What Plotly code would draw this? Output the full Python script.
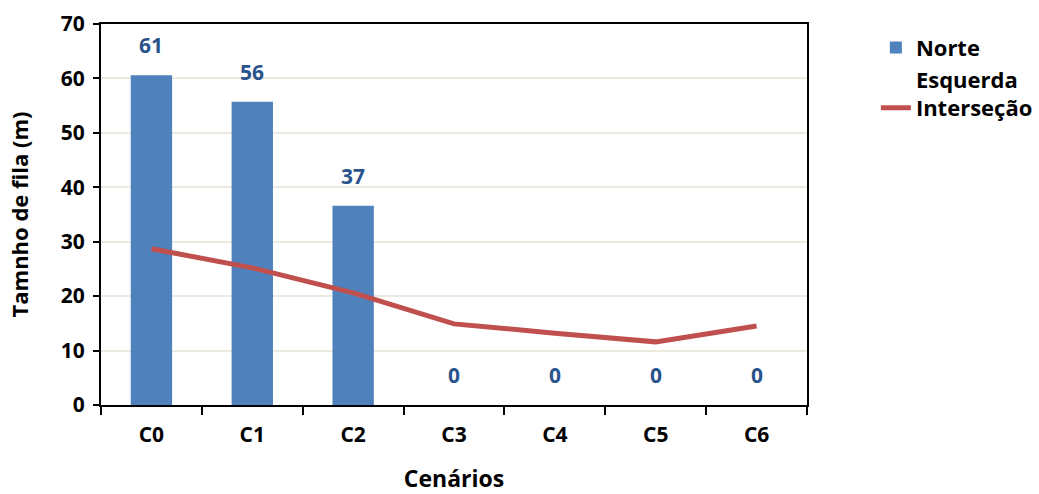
import plotly.graph_objects as go

categories = ["C0", "C1", "C2", "C3", "C4", "C5", "C6"]
norte = [60.6, 55.7, 36.6, 0, 0, 0, 0]
norte_labels = ["61", "56", "37", "0", "0", "0", "0"]
esquerda = [28.7, 25.2, 20.6, 14.9, 13.2, 11.6, 14.5]
y_ticks = [0, 10, 20, 30, 40, 50, 60, 70]

FONT = "Open Sans"

fig = go.Figure()
fig.add_trace(go.Bar(
    x=categories, y=norte, name="Norte",
    marker=dict(color="#4F81BD", line=dict(width=0)),
))
fig.add_trace(go.Scatter(
    x=categories, y=esquerda, name="Esquerda<br>Interseção",
    mode="lines", line=dict(color="#C0504D", width=5),
))

for c, v, t in zip(categories, norte, norte_labels):
    fig.add_annotation(
        x=c, y=v, text=f"<b>{t}</b>", showarrow=False,
        yshift=30, font=dict(family=FONT, size=21, color="#2A538C"),
    )

fig.update_layout(
    width=1039, height=494,
    margin=dict(l=101, r=232, t=24, b=89),
    plot_bgcolor="white", paper_bgcolor="white",
    bargap=0.59,
    font=dict(family=FONT, size=18, color="black"),
    legend=dict(
        xref="container", yref="container",
        x=0.843, y=0.946, xanchor="left", yanchor="top",
        font=dict(family=FONT, size=22, color="black", weight="bold"),
        tracegroupgap=11, valign="bottom",
    ),
    showlegend=True,
)
fig.update_xaxes(
    automargin=False,
    showline=True, linecolor="black", linewidth=2, mirror=True,
    ticks="outside", tickson="boundaries", ticklen=8, tickwidth=2, tickcolor="black",
    tickfont=dict(family=FONT, size=21, weight="bold"),
    ticklabelstandoff=10,
    title=dict(text="<b>Cenários</b>", font=dict(family=FONT, size=23), standoff=43),
    showgrid=False,
)
fig.update_yaxes(
    automargin=False,
    range=[0, 70], tickvals=y_ticks,
    showline=True, linecolor="black", linewidth=2, mirror=True,
    ticks="outside", ticklen=6, tickwidth=2, tickcolor="black",
    tickfont=dict(family=FONT, size=21, weight="bold"),
    ticklabelstandoff=4,
    showgrid=True, gridcolor="#ECE9DF", gridwidth=2,
    title=dict(text="<b>Tamnho de fila (m)</b>", font=dict(family=FONT, size=22), standoff=26),
    zeroline=False,
)

# remove the browser's default 8px body margin so the figure fills the window
fig.write_html(
    "out.html",
    config={"displayModeBar": False},
    post_script="document.body.style.margin='0';",
)
